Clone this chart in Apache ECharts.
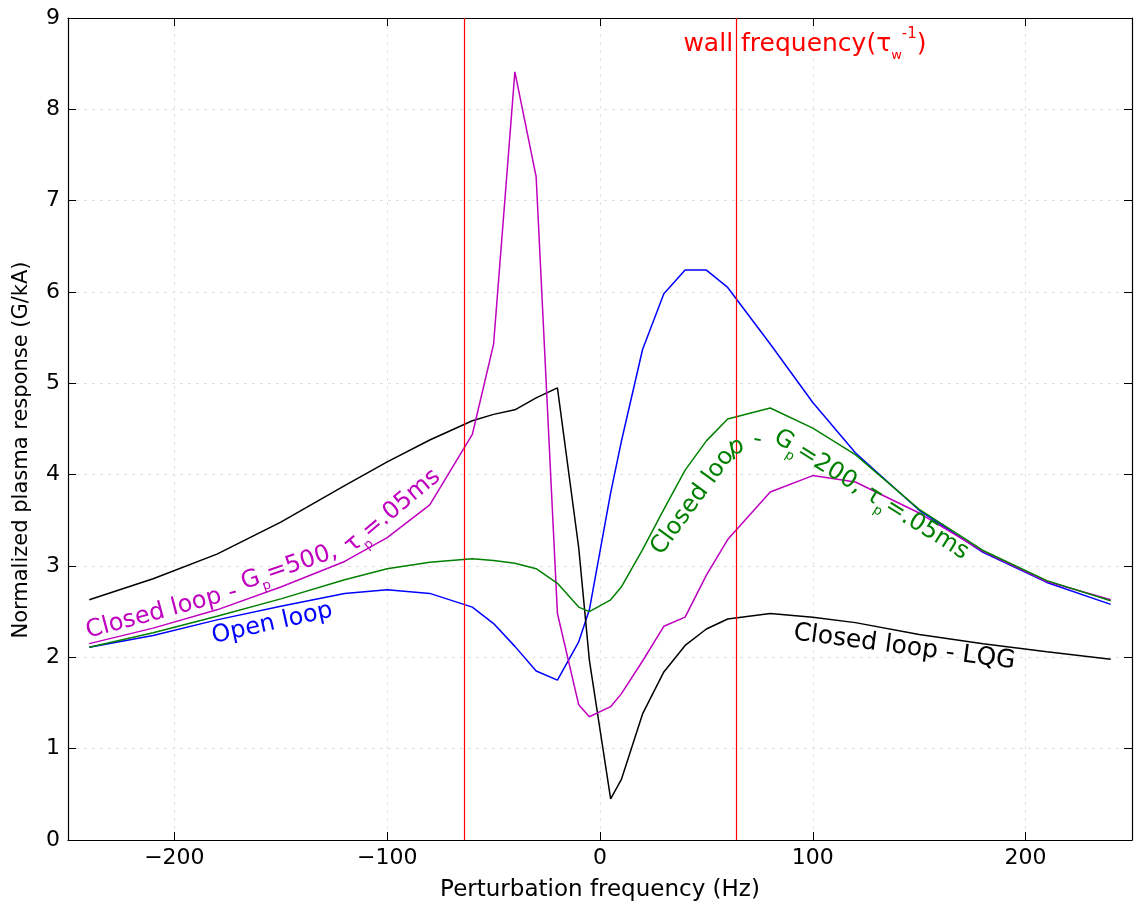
<!DOCTYPE html>
<html>
<head>
<meta charset="utf-8">
<script src="https://cdn.jsdelivr.net/npm/echarts@6/dist/echarts.min.js"></script>
<style>
html,body{margin:0;padding:0;background:#fff;}
#main{width:1138px;height:907px;}
</style>
</head>
<body>
<div id="main"></div>
<script>
// ---- data ----
const freqs = [-240,-210,-180,-150,-120,-100,-80,-60,-50,-40,-30,-20,-10,-5,5,10,20,30,40,50,60,80,100,120,150,180,210,240];
const openLoop = [2.11,2.24,2.41,2.56,2.70,2.74,2.70,2.55,2.37,2.12,1.85,1.75,2.17,2.52,3.80,4.36,5.37,5.98,6.24,6.24,6.05,5.43,4.79,4.24,3.61,3.15,2.82,2.58];
const closedLQG = [2.63,2.86,3.13,3.48,3.88,4.14,4.38,4.59,4.66,4.71,4.84,4.95,3.20,1.97,0.45,0.66,1.38,1.84,2.13,2.31,2.42,2.48,2.44,2.38,2.25,2.15,2.06,1.98];
const closedG500 = [2.15,2.32,2.52,2.77,3.05,3.31,3.67,4.44,5.43,8.41,7.26,2.48,1.48,1.35,1.46,1.60,1.96,2.34,2.44,2.90,3.29,3.81,3.99,3.92,3.58,3.16,2.83,2.63];
const closedG200 = [2.11,2.27,2.45,2.64,2.85,2.97,3.04,3.08,3.06,3.03,2.97,2.81,2.55,2.50,2.63,2.77,3.18,3.62,4.05,4.37,4.61,4.73,4.51,4.22,3.62,3.17,2.84,2.62];
const wallFreqs = [-64, 64];
const xTicks = [-200,-100,0,100,200];
const yTicks = [0,1,2,3,4,5,6,7,8,9];

const FONT = 'DejaVu Sans';
const C_BLUE = '#0000ff', C_BLACK = '#000000', C_MAG = '#bf00bf', C_GREEN = '#008000', C_RED = '#ff0000';

function pairs(v){ return freqs.map((f,i)=>[f, v[i]]); }
const minus = v => String(v).replace('-', '\u2212');

const chart = echarts.init(document.getElementById('main'), null, {renderer:'canvas'});

const axisText = {fontFamily: FONT, fontSize: 22, color: '#000'};
const frameLine = {onZero:false, lineStyle:{color:'#000', width:1.2}};
const gridLine = {show: true, lineStyle: {type: [3,5], color: '#e0e0e0', width: 1}};

const option = {
  animation: false,
  backgroundColor: '#fff',
  grid: {left: 68, right: 6, top: 18, bottom: 67},
  xAxis: [{
    type: 'value', min: -250, max: 250,
    axisLine: frameLine,
    axisTick: {inside: true, length: 8, customValues: xTicks, lineStyle:{color:'#000'}},
    axisLabel: Object.assign({customValues: xTicks, formatter: minus, margin: 7}, axisText),
    splitLine: gridLine,
    name: 'Perturbation frequency (Hz)', nameLocation: 'middle', nameGap: 39,
    nameTextStyle: {fontFamily: FONT, fontSize: 23, color: '#000'}
  }, {
    type: 'value', min: -250, max: 250, position: 'top',
    axisLine: frameLine,
    axisTick: {inside: true, length: 8, customValues: xTicks, lineStyle:{color:'#000'}},
    axisLabel: {show: false},
    splitLine: {show: false}
  }],
  yAxis: [{
    type: 'value', min: 0, max: 9, interval: 1,
    axisLine: frameLine,
    axisTick: {inside: true, length: 8, customValues: yTicks, lineStyle:{color:'#000'}},
    axisLabel: Object.assign({margin: 8, customValues: yTicks}, axisText),
    splitLine: gridLine
  }, {
    type: 'value', min: 0, max: 9, interval: 1, position: 'right',
    axisLine: frameLine,
    axisTick: {inside: true, length: 8, lineStyle:{color:'#000'}},
    axisLabel: {show: false},
    splitLine: {show: false}
  }],
  series: [
    {name:'Open loop', type:'line', data: pairs(openLoop), showSymbol:false, lineStyle:{color:C_BLUE, width:1.5}, itemStyle:{color:C_BLUE}, z:3},
    {name:'Closed loop - LQG', type:'line', data: pairs(closedLQG), showSymbol:false, lineStyle:{color:C_BLACK, width:1.5}, itemStyle:{color:C_BLACK}, z:3},
    {name:'Closed loop - Gp=500', type:'line', data: pairs(closedG500), showSymbol:false, lineStyle:{color:C_MAG, width:1.5}, itemStyle:{color:C_MAG}, z:3},
    {name:'Closed loop - Gp=200', type:'line', data: pairs(closedG200), showSymbol:false, lineStyle:{color:C_GREEN, width:1.5}, itemStyle:{color:C_GREEN}, z:3,
      markLine: {silent:true, symbol:['none','none'], label:{show:false},
        lineStyle:{color:C_RED, width:1.2, type:'solid'},
        data: wallFreqs.map(f=>({xAxis:f}))}
    }
  ]
};
chart.setOption(option);

// ---- text annotations (anchor in data coords, rotation in degrees) ----
function rich(color, size){
  return {
    s: {fontFamily: FONT, fontSize: 13, fill: color, verticalAlign: 'bottom', lineHeight: 13},
    u: {fontFamily: FONT, fontSize: 15, fill: color, verticalAlign: 'top', lineHeight: 15},
    n: {fontFamily: FONT, fontSize: size, fill: color, lineHeight: size + 10}
  };
}
const annotations = [
  {text:'{n|Closed loop -}', at:[-206, 2.50], rot:15, color:C_MAG, size:24},
  {text:'{n|G}{s|p}{n|=500,}', at:[-146, 2.99], rot:19, color:C_MAG, size:24},
  {text:'{n|\u03c4}{s|p}{n|=.05ms}', at:[-97.5, 3.60], rot:40, color:C_MAG, size:24},
  {text:'{n|Open loop}', at:[-154, 2.37], rot:12.5, color:C_BLUE, size:24},
  {text:'{n|Closed loop - LQG}', at:[143, 2.11], rot:-7.5, color:C_BLACK, size:25},
  {text:'{n|Closed loo}', at:[43.6, 3.70], rot:54, color:C_GREEN, size:24},
  {text:'{n|p}', at:[64, 4.30], rot:12, color:C_GREEN, size:24},
  {text:'{n|-}', at:[74, 4.38], rot:-10, color:C_GREEN, size:24},
  {text:'{n|G}{s|p}{n|=200, \u03c4}{s|p}{n|=.05ms}', at:[127.4, 3.78], rot:-32, color:C_GREEN, size:24},
  {text:'{n|wall frequency(\u03c4}{s|w}{u|-1}{n|)}', at:[39.2, 8.71], rot:0, color:C_RED, size:25, align:'left'},
  // y-axis title, drawn as text so it can sit where the original places it
  {text:'{n|Normalized plasma response (G/kA)}', at:[-271.6, 4.27], rot:90, color:'#000', size:21}
];
const graphics = annotations.map(a => {
  const p = chart.convertToPixel({gridIndex:0}, a.at);
  return {
    type: 'text', x: p[0], y: p[1], rotation: a.rot * Math.PI / 180, z: 10, silent: true,
    style: {text: a.text, rich: rich(a.color, a.size), fill: a.color, font: a.size + 'px ' + FONT,
      align: a.align || 'center', verticalAlign: 'middle',
      textAlign: a.align || 'center', textVerticalAlign: 'middle'}
  };
});
chart.setOption({graphic: graphics});
</script>
</body>
</html>
